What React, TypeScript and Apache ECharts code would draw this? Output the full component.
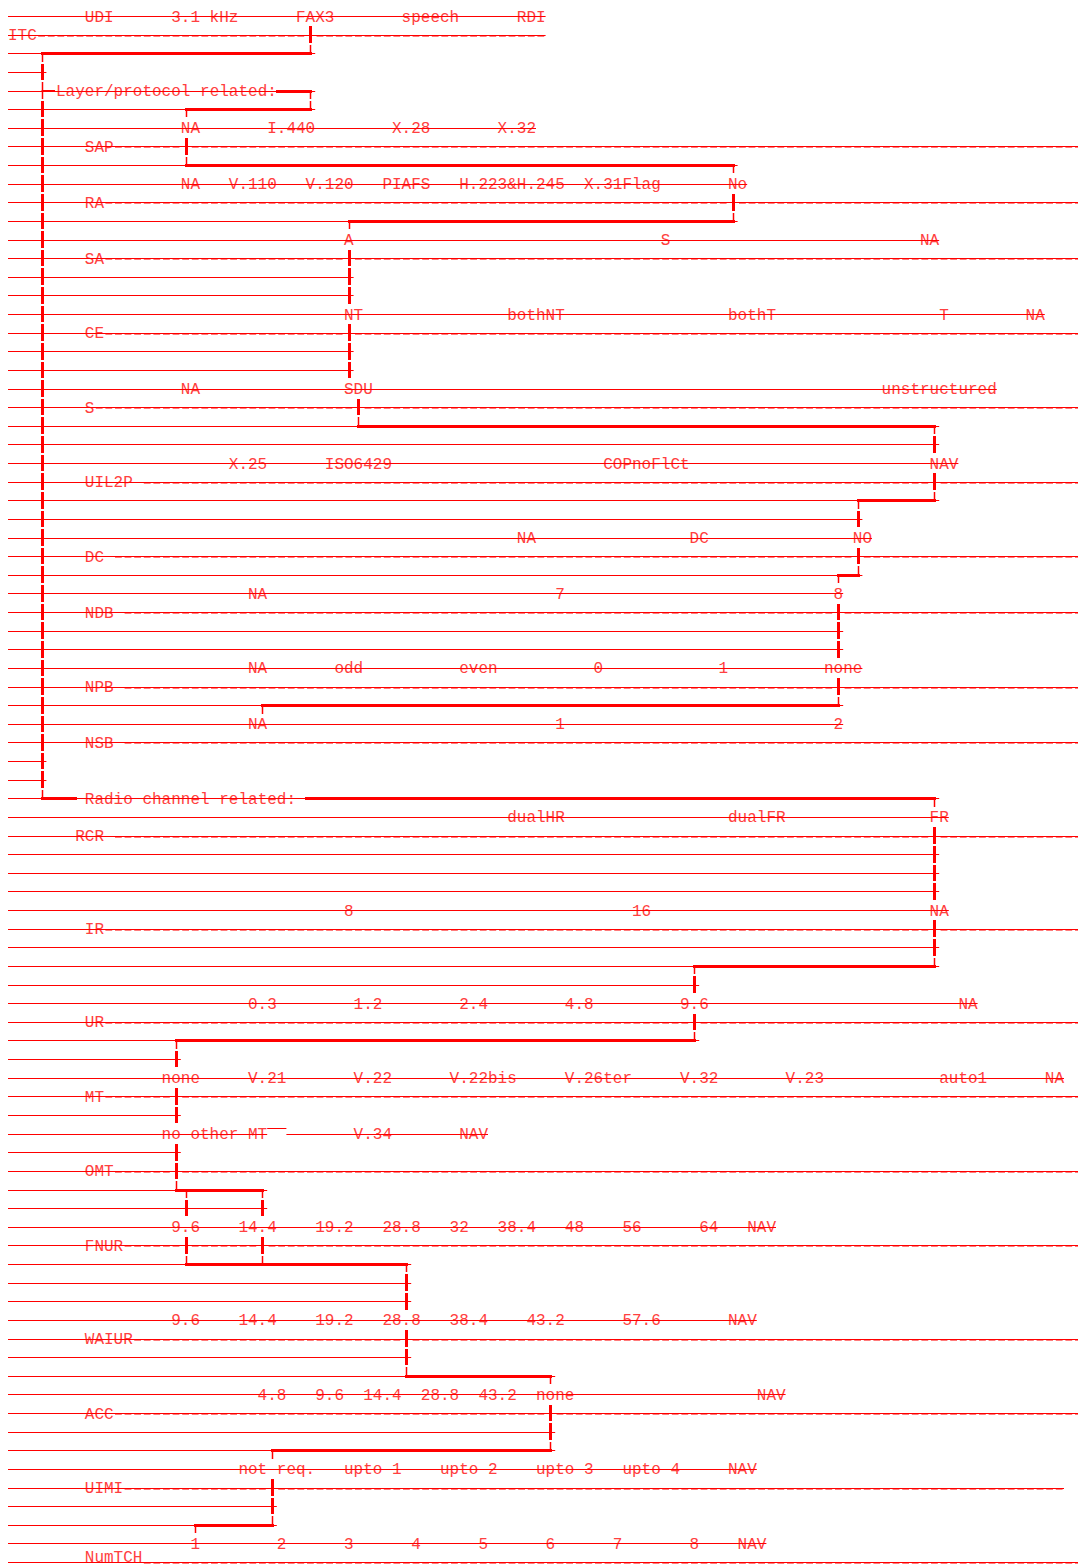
import React, { useEffect, useRef } from "react";
import * as echarts from "echarts";

// ---------- DATA (columns are character cells, rows are text lines) ----------
const FULL = 112;

// parameter names (dashed rows)
const paramLabels = ["ITC", "SAP", "RA", "SA", "CE", "S", "UIL2P ", "DC ", "NDB ", "NPB ", "NSB ", "RCR ", "IR", "UR", "MT", "OMT", "FNUR", "WAIUR", "ACC", "UIMI", "NumTCH"];
const paramRows = [1, 7, 10, 13, 17, 21, 25, 29, 32, 36, 39, 44, 49, 54, 58, 62, 66, 71, 75, 79, 83];
const paramCols = [0, 8, 8, 8, 8, 8, 8, 8, 8, 8, 8, 7, 8, 8, 8, 8, 8, 8, 8, 8, 8];
const valueRows = [0, 6, 9, 12, 16, 20, 24, 28, 31, 35, 38, 43, 48, 53, 57, 60, 65, 70, 74, 78, 82];

// values of each parameter and the column where each one starts
const itcValues = ["UDI", "3.1 kHz", "FAX3", "speech", "RDI"];
const itcCols = [8, 17, 30, 41, 53];
const sapValues = ["NA", "I.440", "X.28", "X.32"];
const sapCols = [18, 27, 40, 51];
const raValues = ["NA", "V.110", "V.120", "PIAFS", "H.223&H.245", "X.31Flag", "No"];
const raCols = [18, 23, 31, 39, 47, 60, 75];
const saValues = ["A", "S", "NA"];
const saCols = [35, 68, 95];
const ceValues = ["NT", "bothNT", "bothT", "T", "NA"];
const ceCols = [35, 52, 75, 97, 106];
const sValues = ["NA", "SDU", "unstructured"];
const sCols = [18, 35, 91];
const uil2pValues = ["X.25", "ISO6429", "COPnoFlCt", "NAV"];
const uil2pCols = [23, 33, 62, 96];
const dcValues = ["NA", "DC", "NO"];
const dcCols = [53, 71, 88];
const ndbValues = ["NA", "7", "8"];
const ndbCols = [25, 57, 86];
const npbValues = ["NA", "odd", "even", "0", "1", "none"];
const npbCols = [25, 34, 47, 61, 74, 85];
const nsbValues = ["NA", "1", "2"];
const nsbCols = [25, 57, 86];
const rcrValues = ["dualHR", "dualFR", "FR"];
const rcrCols = [52, 75, 96];
const irValues = ["8", "16", "NA"];
const irCols = [35, 65, 96];
const urValues = ["0.3", "1.2", "2.4", "4.8", "9.6", "NA"];
const urCols = [25, 36, 47, 58, 70, 99];
const mtValues = ["none", "V.21", "V.22", "V.22bis", "V.26ter", "V.32", "V.23", "auto1", "NA"];
const mtCols = [16, 25, 36, 46, 58, 70, 81, 97, 108];
const omtValues = ["no other MT", "V.34", "NAV"];
const omtCols = [16, 36, 47];
const fnurValues = ["9.6", "14.4", "19.2", "28.8", "32", "38.4", "48", "56", "64", "NAV"];
const fnurCols = [17, 24, 32, 39, 46, 51, 58, 64, 72, 77];
const waiurValues = ["9.6", "14.4", "19.2", "28.8", "38.4", "43.2", "57.6", "NAV"];
const waiurCols = [17, 24, 32, 39, 46, 54, 64, 75];
const accValues = ["4.8", "9.6", "14.4", "28.8", "43.2", "none", "NAV"];
const accCols = [26, 32, 37, 43, 49, 55, 78];
const uimiValues = ["not req.", "upto 1", "upto 2", "upto 3", "upto 4", "NAV"];
const uimiCols = [24, 35, 45, 55, 64, 75];
const numtchValues = ["1", "2", "3", "4", "5", "6", "7", "8", "NAV"];
const numtchCols = [19, 28, 35, 42, 49, 56, 63, 71, 76];

const sectionTitles = ["Layer/protocol related:", "Radio channel related:"];
const sectionRows = [4, 42];
const sectionCols = [5, 8];

// end column of the strike line of every text row (0..83)
const strikeEnds = [
  56, 56, 32, 4, 32, 32, 55, FULL, 76, 77,
  FULL, 76, 97, FULL, 36, 36, 108, FULL, 36, 36,
  103, FULL, 97, 97, 99, FULL, 97, 89, 90, FULL,
  89, 87, FULL, 87, 87, 89, FULL, 87, 87, FULL,
  4, 4, 97, 98, FULL, 97, 97, 97, 98, FULL,
  97, 97, 72, 101, FULL, 72, 18, 110, FULL, 18,
  50, 18, FULL, 27, 27, 80, FULL, 42, 42, 42,
  78, FULL, 42, 57, 81, FULL, 57, 57, 78, 110,
  28, 28, 79, FULL,
];
const strikeGaps = [[60, 27, 29]];
const overlines = [[59.7, 27, 29]];

// selected path: horizontal runs [row, fromCol, toCol]
const pathRunsH = [
  [2, 3.5, 31.5], [4, 28, 31.5], [5, 18.5, 31.5], [8, 18.5, 75.5], [11, 35.5, 75.5],
  [22, 36.5, 96.5], [26, 88.5, 96.5], [30, 86.5, 88.5], [37, 26.5, 86.5],
  [42, 3.5, 7], [42, 31, 96.5], [51, 71.5, 96.5], [55, 17.5, 71.5], [63, 17.5, 26.5],
  [67, 18.5, 41.5], [73, 41.5, 56.5], [77, 27.5, 56.5], [81, 19.5, 27.5],
];
// vertical runs of full cells [col, firstRow, lastRow]
const pathRunsV = [
  [31.5, 1, 1], [3.5, 3, 3], [3.5, 5, 41], [18.5, 7, 7], [75.5, 10, 10],
  [35.5, 13, 15], [35.5, 17, 19], [36.5, 21, 21], [96.5, 23, 23], [96.5, 25, 25],
  [88.5, 27, 27], [88.5, 29, 29], [86.5, 32, 34], [86.5, 36, 36],
  [96.5, 44, 47], [96.5, 49, 50], [71.5, 52, 52], [71.5, 54, 54],
  [17.5, 56, 56], [17.5, 58, 59], [17.5, 61, 62],
  [18.5, 64, 64], [26.5, 64, 64], [18.5, 66, 66], [26.5, 66, 66],
  [41.5, 68, 69], [41.5, 71, 72], [56.5, 75, 76], [27.5, 79, 80],
];
// corner / tee half cells [col, fromRow, toRow]
const pathJoints = [
  [31.5, 1.5, 2], [3.5, 2, 2.5], [3.5, 3.5, 4.5], [31.5, 4, 4.5], [31.5, 4.5, 5],
  [18.5, 5, 5.5], [18.5, 7.5, 8], [75.5, 8, 8.5], [75.5, 10.5, 11], [35.5, 11, 11.5],
  [36.5, 21.5, 22], [96.5, 22, 22.5], [96.5, 25.5, 26], [88.5, 26, 26.5],
  [88.5, 29.5, 30], [86.5, 30, 30.5], [86.5, 36.5, 37], [26.5, 37, 37.5],
  [3.5, 41.5, 42], [96.5, 42, 42.5], [96.5, 50.5, 51], [71.5, 51, 51.5],
  [71.5, 54.5, 55], [17.5, 55, 55.5], [17.5, 62.5, 63], [18.5, 63, 63.5], [26.5, 63, 63.5],
  [18.5, 66.5, 67], [26.5, 66.5, 67], [41.5, 67, 67.5], [41.5, 72.5, 73], [56.5, 73, 73.5],
  [56.5, 76.5, 77], [27.5, 77, 77.5], [27.5, 80.5, 81], [19.5, 81, 81.5],
];
const pathTicksH = [[4, 3.5, 4.9]];

// ---------- derived tables ----------
const valueBlocks: [string[], number[]][] = [
  [itcValues, itcCols], [sapValues, sapCols], [raValues, raCols], [saValues, saCols],
  [ceValues, ceCols], [sValues, sCols], [uil2pValues, uil2pCols], [dcValues, dcCols],
  [ndbValues, ndbCols], [npbValues, npbCols], [nsbValues, nsbCols], [rcrValues, rcrCols],
  [irValues, irCols], [urValues, urCols], [mtValues, mtCols], [omtValues, omtCols],
  [fnurValues, fnurCols], [waiurValues, waiurCols], [accValues, accCols],
  [uimiValues, uimiCols], [numtchValues, numtchCols],
];

type TextItem = { row: number; col: number; text: string };
const textItems: TextItem[] = [];
valueBlocks.forEach(([vals, cols], i) => {
  vals.forEach((v, j) => textItems.push({ row: valueRows[i], col: cols[j], text: v }));
});
paramLabels.forEach((l, i) => textItems.push({ row: paramRows[i], col: paramCols[i], text: l.trim() }));
sectionTitles.forEach((t, i) => textItems.push({ row: sectionRows[i], col: sectionCols[i], text: t }));

// strike segments [row, c1, c2]
const strikeSegs: number[][] = [];
strikeEnds.forEach((end, row) => {
  const gaps = strikeGaps.filter((g) => g[0] === row);
  let start = 0;
  gaps.forEach((g) => {
    strikeSegs.push([row, start, g[1]]);
    start = g[2];
  });
  strikeSegs.push([row, start, end]);
});

// dash segments [row, c1, c2] ("-----" after each label), interrupted by path cells
const dashSegs: number[][] = [];
paramLabels.forEach((l, i) => {
  const row = paramRows[i];
  const start = paramCols[i] + l.length;
  const end = strikeEnds[row];
  const blocked = pathRunsV
    .filter((v) => v[1] <= row && row <= v[2])
    .map((v) => Math.floor(v[0]))
    .filter((c) => c >= start && c < end)
    .sort((a, b) => a - b);
  let s = start;
  blocked.forEach((c) => {
    if (c > s) dashSegs.push([row, s, c]);
    s = c + 1;
  });
  if (end > s) dashSegs.push([row, s, end]);
});

// ---------- styling ----------
const LINE = "#ff0000";
const TEXT = "#ff4040";
const DASH = "#ff7a7a";
const FONT = '16px "Liberation Mono", "DejaVu Sans Mono", monospace';
const ROW_H = 18.627;
const Y_MIN = -16 / ROW_H;
const Y_MAX = (1566 - 16) / ROW_H;
const X_MAX = 1070 / 9.6;
const PAGE_H = 1566;

const cy = (v: number) => Math.round(v) + 0.5;

export default function App() {
  const ref = useRef<HTMLDivElement>(null);
  useEffect(() => {
    const chart = echarts.init(ref.current as HTMLDivElement, null, { renderer: "svg" });
    const option: any = {
      animation: false,
      grid: { left: 8, right: 0, top: 0, bottom: 0 },
      xAxis: { type: "value", min: 0, max: X_MAX, show: false, splitLine: { show: false } },
      yAxis: { type: "value", min: Y_MIN, max: Y_MAX, inverse: true, show: false, splitLine: { show: false } },
      series: [
        {
          type: "custom",
          name: "dashes",
          z: 1,
          silent: true,
          data: dashSegs.map((s) => [s[1], s[0]]),
          renderItem: (p: any, api: any) => {
            const s = dashSegs[p.dataIndex];
            const a = api.coord([s[1], s[0]]);
            const b = api.coord([s[2], s[0]]);
            const y = Math.round(a[1]) + 1;
            return {
              type: "line",
              shape: { x1: a[0] + 1.4, y1: y, x2: b[0], y2: y },
              style: { stroke: DASH, lineWidth: 2, lineDash: [6.8, 2.8] },
            };
          },
        },
        {
          type: "custom",
          name: "texts",
          z: 2,
          silent: true,
          data: textItems.map((t) => [t.col, t.row]),
          renderItem: (p: any, api: any) => {
            const t = textItems[p.dataIndex];
            const a = api.coord([t.col, t.row]);
            const y = Math.min(a[1] + 1.5, PAGE_H - 8.5);
            return {
              type: "text",
              x: a[0],
              y,
              style: { text: t.text, font: FONT, fill: TEXT, align: "left", verticalAlign: "middle" },
            };
          },
        },
        {
          type: "custom",
          name: "strikes",
          z: 3,
          silent: true,
          data: strikeSegs.map((s) => [s[1], s[0]]),
          renderItem: (p: any, api: any) => {
            const s = strikeSegs[p.dataIndex];
            const a = api.coord([s[1], s[0]]);
            const b = api.coord([s[2], s[0]]);
            const y = cy(a[1]);
            return {
              type: "line",
              shape: { x1: a[0], y1: y, x2: b[0], y2: y },
              style: { stroke: LINE, lineWidth: 1 },
            };
          },
        },
        {
          type: "custom",
          name: "overlines",
          z: 3,
          silent: true,
          data: overlines.map((s) => [s[1], s[0]]),
          renderItem: (p: any, api: any) => {
            const s = overlines[p.dataIndex];
            const a = api.coord([s[1], s[0]]);
            const b = api.coord([s[2], s[0]]);
            const y = cy(a[1]);
            return { type: "line", shape: { x1: a[0], y1: y, x2: b[0], y2: y }, style: { stroke: LINE, lineWidth: 1 } };
          },
        },
        {
          type: "custom",
          name: "pathH",
          z: 4,
          silent: true,
          data: pathRunsH.map((s) => [s[1], s[0]]),
          renderItem: (p: any, api: any) => {
            const s = pathRunsH[p.dataIndex];
            const a = api.coord([s[1], s[0]]);
            const b = api.coord([s[2], s[0]]);
            const y = cy(a[1]);
            return {
              type: "line",
              shape: { x1: Math.round(a[0]) - 1, y1: y, x2: Math.round(b[0]) + 2, y2: y },
              style: { stroke: LINE, lineWidth: 3 },
            };
          },
        },
        {
          type: "custom",
          name: "pathTicks",
          z: 4,
          silent: true,
          data: pathTicksH.map((s) => [s[1], s[0]]),
          renderItem: (p: any, api: any) => {
            const s = pathTicksH[p.dataIndex];
            const a = api.coord([s[1], s[0]]);
            const b = api.coord([s[2], s[0]]);
            const y = Math.round(a[1]);
            return { type: "line", shape: { x1: a[0], y1: y, x2: b[0], y2: y }, style: { stroke: LINE, lineWidth: 2 } };
          },
        },
        {
          type: "custom",
          name: "pathV",
          z: 4,
          silent: true,
          data: pathRunsV.map((s) => [s[0], s[1]]),
          renderItem: (p: any, api: any) => {
            const s = pathRunsV[p.dataIndex];
            const children: any[] = [];
            for (let k = s[1]; k <= s[2]; k++) {
              const top = api.coord([s[0], k - 0.5]);
              const bot = api.coord([s[0], k + 0.5]);
              const x = Math.round(top[0]) + 0.5;
              children.push({
                type: "line",
                shape: { x1: x, y1: Math.round(top[1]) + 1, x2: x, y2: Math.round(bot[1]) - 1 },
                style: { stroke: LINE, lineWidth: 3 },
              });
            }
            return { type: "group", children };
          },
        },
        {
          type: "custom",
          name: "pathJoints",
          z: 4,
          silent: true,
          data: pathJoints.map((s) => [s[0], s[1]]),
          renderItem: (p: any, api: any) => {
            const s = pathJoints[p.dataIndex];
            const a = api.coord([s[0], s[1]]);
            const b = api.coord([s[0], s[2]]);
            const x = Math.round(a[0]) + 0.5;
            const y1 = Number.isInteger(s[1]) ? cy(a[1]) : Math.round(a[1]) + 1;
            const y2 = Number.isInteger(s[2]) ? cy(b[1]) : Math.round(b[1]) - 1;
            return { type: "line", shape: { x1: x, y1, x2: x, y2 }, style: { stroke: LINE, lineWidth: 1.5 } };
          },
        },
      ],
    };
    chart.setOption(option);
    return () => chart.dispose();
  }, []);
  return (
    <div
      ref={ref}
      style={{ position: "absolute", left: 0, top: 0, width: 1078, height: 1566, background: "#ffffff" }}
    />
  );
}
